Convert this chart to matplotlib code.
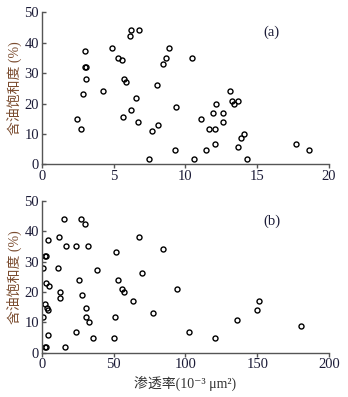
import matplotlib
matplotlib.use('Agg')
import matplotlib.pyplot as plt

# (a) 孔隙度? x 0-20
xa = [2.44, 2.71, 2.9, 3.02, 2.98, 3.08, 3.06, 4.29, 4.87, 5.29, 5.59, 5.64, 5.75, 5.87,
      6.15, 6.2, 6.2, 6.59, 6.7, 6.77, 7.45, 7.66, 8.05, 8.12, 8.45, 8.68, 8.84, 9.3,
      9.35, 10.46, 10.63, 11.07, 11.46, 11.62, 11.93, 12.04, 12.04, 12.16, 12.65, 12.65,
      13.09, 13.27, 13.36, 13.67, 13.67, 13.87, 14.11, 14.29, 17.7, 18.6]
ya = [15, 11.6, 23, 37.2, 32, 32, 28, 24, 38.3, 35, 34.2, 15.7, 28.1, 27, 42.3, 44.2, 17.9,
      21.9, 13.8, 44.2, 1.6, 10.9, 26, 12.8, 33.1, 35, 38.3, 4.6, 19, 35, 1.6, 14.9, 4.6,
      11.6, 16.8, 11.6, 6.6, 20, 16.8, 13.8, 24, 20.8, 20, 20.8, 5.8, 8.8, 9.9, 1.6, 6.6, 4.6]

# (b) 渗透率
xb = [1.2, 1.2, 2.2, 3.0, 2.3, 2.6, 3.2, 3.0, 3.5, 4.2, 4.2, 4.4, 4.9, 11.1, 11.8, 13.0,
      13.0, 15.8, 16.0, 16.9, 24.1, 24.1, 25.7, 27.3, 28.3, 29.9, 30.6, 31.1, 32.2, 32.7,
      35.9, 38.7, 50.3, 51.0, 51.4, 53.3, 55.6, 57.5, 63.7, 67.9, 69.5, 77.2, 84.1, 94.1,
      102.2, 120.3, 136.0, 149.9, 151.1, 180.8]
yb = [28, 11.9, 2, 2, 15.9, 32, 32, 22.9, 14.8, 37.1, 5.9, 14, 22.1, 28, 38.2, 19.9, 18.1,
      44.2, 2, 35.3, 6.8, 35.3, 24, 44.2, 18.9, 42.3, 14.8, 11.9, 35.3, 10, 4.9, 27.1,
      4.9, 11.9, 33.1, 24, 21, 19.9, 16.9, 38.2, 26.2, 13, 34.2, 21, 6.8, 4.9, 10.8, 14,
      16.9, 8.9]

plt.rcParams['font.family'] = ['Liberation Serif', 'Noto Sans CJK SC', 'DejaVu Sans']

tick_color = '#1c1c38'
label_color = '#7a4b2e'

fig = plt.figure(figsize=(3.48, 3.97), dpi=100)
ax1 = fig.add_axes([0.12, 0.586, 0.8256, 0.383])
ax2 = fig.add_axes([0.12, 0.1116, 0.8256, 0.382])

for ax, x, y, xmax, lab in [(ax1, xa, ya, 20, '(a)'), (ax2, xb, yb, 200, '(b)')]:
    ax.plot(x, y, 'o', mfc='none', mec='black', ms=3.6, mew=1.0)
    ax.set_xlim(0, xmax)
    ax.set_ylim(0, 50)
    ax.set_yticks([0, 10, 20, 30, 40, 50])
    ax.spines['top'].set_visible(False)
    ax.spines['right'].set_visible(False)
    for s in ['left', 'bottom']:
        ax.spines[s].set_color('#555555')
        ax.spines[s].set_linewidth(1.0)
    ax.tick_params(axis='y', direction='in', length=3, width=1, color='#555555',
                   labelsize=10.5, labelcolor=tick_color, pad=2)
    ax.tick_params(axis='x', direction='out', length=3, width=1, color='#555555',
                   labelsize=10.5, labelcolor=tick_color, pad=1)
    ax.set_ylabel('含油饱和度 (%)', color=label_color, fontsize=10, labelpad=2)
    ax.text(0.8 * xmax, 43.3, lab, fontsize=10.5, color=tick_color, ha='center', va='center')

ax2.set_xlabel('渗透率(10⁻³ μm²)', color='#333333', fontsize=10, labelpad=3)

fig.savefig('out.png', dpi=100)
